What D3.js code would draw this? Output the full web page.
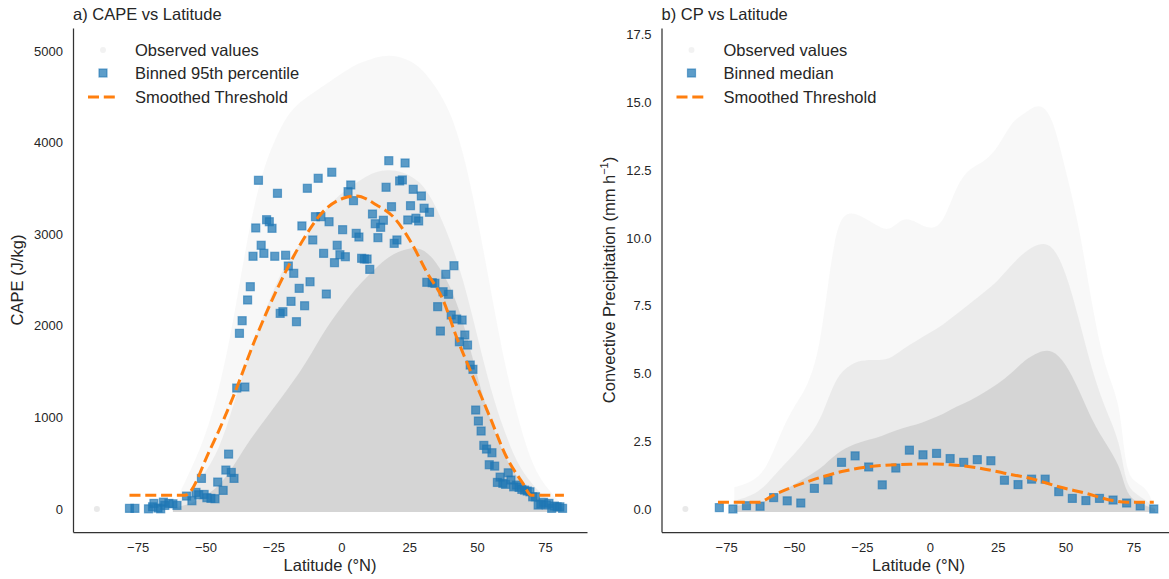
<!DOCTYPE html>
<html>
<head>
<meta charset="utf-8">
<script src="https://cdn.jsdelivr.net/npm/d3@7"></script>
<style>
  body { margin: 0; background: #fff; }
  text { font-family: "Liberation Sans", Arial, sans-serif; fill: #262626; }
</style>
</head>
<body>
<div id="chart"></div>
<script>
var
    width = 1169,
    height = 579;

// ---- panel a: CAPE ----
var capeBinLat = [-78, -76, -71, -69.5, -69, -67.5, -66.5, -65.5, -65, -63.5, -62, -60.5,
  -57, -55, -53.5, -52.5, -51.5, -50.5, -49.5, -48, -46.5, -45.5, -43.5, -42.5, -41.5, -40.5, -39.5,
  -38.5, -37.5, -36.5, -35.5, -34.5, -33.5, -32.5, -31.5, -30.5, -29.5, -28.5, -27.5, -26.5, -25.5,
  -24.5, -23.5, -22.5, -21.5, -20.5, -19.5, -18.5, -17.5, -16.5, -15.5, -14.5, -13.5, -12.5, -11.5,
  -10.5, -9.5, -8.5, -7.5, -6.5, -5.5, -4.5, -3.5, -2.5, -1.5, -0.5, 0.5, 1.5, 2.5, 3.5, 4.5, 5.5,
  6.5, 7.5, 8.5, 9.5, 10.5, 11.5, 12.5, 13.5, 14.5, 15.5, 16.5, 17.5, 18.5, 19.5, 20.5, 21.5, 22.5,
  23.5, 24.5, 25.5, 26.5, 27.5, 28.5, 29.5, 30.5, 31.5, 32.5, 33.5, 34.5, 35.5, 36.5, 37.5, 38.5,
  39.5, 40.5, 41.5, 42.5, 43.5, 44.5, 45.5, 46.5, 47.5, 48.5, 49.5, 50.5, 51.5, 52.5, 53.5, 54.5,
  55.5, 56.5, 57.5, 58.5, 59.5, 60.5, 61.5, 62.5, 63.5, 64.5, 65.5, 66.5, 67.5, 68.5, 69.5, 70.5,
  71.5, 72.5, 73.5, 74.5, 75.5, 76.5, 77.5, 78.5, 79.5, 80.5, 81.5];
var capeP95 = [8, 8, 3, 25, 62, 11, 3, 76, 40, 62, 58, 40,
  142, 91, 182, 156, 335, 160, 124, 117, 113, 295, 204, 426, 600, 400, 335,
  1321, 1918, 2056, 1332, 2282, 2427, 2759, 3068, 3588, 2879, 2791, 3158, 3136, 3064,
  2759, 3446, 2136, 2154, 2770, 2653, 2267, 2573, 2045, 2409, 3090, 2219, 3501, 2481,
  2937, 3191, 3610, 3191, 2791, 2347, 3136, 3676, 2689, 2879, 2776, 3049, 2754, 3464, 3537, 3366, 3009,
  2969, 2737, 2729, 2729, 2616, 3220, 3114, 2962, 3075, 3152, 3512, 3802, 3300, 2900, 2937, 3581, 3592,
  3777, 3155, 3311, 3490, 3174, 3144, 3417, 3283, 2475, 3239, 2470, 2464, 2209, 1943, 2372, 2562,
  2344, 2118, 2656, 2074, 1826, 2063, 1900, 1790, 1572, 1525, 1081, 961, 852, 695, 655, 484,
  615, 469, 291, 349, 281, 270, 396, 317, 243, 262, 237, 215, 207, 197, 189, 134,
  134, 44, 55, 73, 44, 62, 8, 33, 25, 25, 8];

var capeSmoothLat = [-78, -57.6, -48.4, -39.8, -31.8, -22.6, -14.1, -6.7, 0.7, 5.5, 13, 19.1, 25.2,
  31.4, 37.5, 42.4, 48.5, 54.7, 60.8, 66.9, 70, 82];
var capeSmooth = [150, 150, 644, 1226, 1845, 2464, 2937, 3246, 3392, 3417, 3319, 3191, 2937,
  2591, 2282, 1881, 1444, 1008, 571, 281, 150, 150];

// observed cloud, read as envelopes: sparse top, medium-density top, solid top
var capeCloudLat = [-62, -60, -55, -50, -45, -40, -35, -30, -25, -20, -15, -10, -5, 0, 5, 10, 15,
  20, 25, 30, 35, 40, 45, 50, 55, 60, 65, 70, 75, 80, 82];
var capeCloudSparse = [0, 150, 450, 800, 1300, 2000, 2900, 3600, 4000, 4300, 4450, 4550, 4650, 4750,
  4850, 4900, 4950, 4950, 4900, 4800, 4600, 4350, 3900, 3200, 2400, 1600, 1000, 500, 250, 100, 0];
var capeCloudMid = [0, 60, 200, 400, 650, 1100, 1600, 2000, 2400, 2700, 2900, 3100, 3300, 3450,
  3550, 3650, 3700, 3700, 3650, 3550, 3300, 2950, 2500, 1900, 1300, 850, 480, 280, 120, 50, 0];
var capeCloudDense = [0, 30, 60, 150, 250, 450, 700, 900, 1100, 1300, 1500, 1750, 2000, 2200,
  2400, 2550, 2700, 2800, 2850, 2850, 2700, 2450, 2050, 1450, 950, 580, 330, 180, 70, 20, 0];

// ---- panel b: convective precipitation ----
var cpBinLat = [-77.5, -72.5, -67.5, -62.5, -57.5, -52.5, -47.5, -42.5, -37.5, -32.5, -27.5,
  -22.5, -17.5, -12.5, -7.5, -2.5, 2.5, 7.5, 12.5, 17.5, 22.5, 27.5, 32.5, 37.5, 42.5, 47.5,
  52.5, 57.5, 62.5, 67.5, 72.5, 77.5, 82.5];
var cpMedian = [0.05, 0.0, 0.12, 0.1, 0.42, 0.3, 0.22, 0.76, 1.07, 1.72, 1.96,
  1.55, 0.89, 1.51, 2.17, 2.0, 2.05, 1.86, 1.72, 1.82, 1.78, 1.06, 0.9, 1.1, 1.1, 0.64,
  0.39, 0.31, 0.39, 0.33, 0.22, 0.11, 0.0];

var cpSmoothLat = [-78, -63, -57.4, -42.3, -32.4, -22.3, -7.5, 2, 7.5, 17.6, 27.5, 37.4, 47.5,
  57.4, 67.5, 72.5, 82.5];
var cpSmooth = [0.25, 0.25, 0.52, 1.1, 1.38, 1.56, 1.65, 1.66, 1.63, 1.52, 1.32, 1.12, 0.82,
  0.58, 0.31, 0.25, 0.25];

var cpCloudLat = [-72, -65, -60, -55, -50, -45, -40, -35, -30, -25, -20, -15, -10, -5, 0, 5, 10,
  15, 20, 25, 30, 35, 40, 45, 50, 55, 60, 65, 70, 72, 75, 80, 83];
var cpCloudSparse = [0.8, 1.0, 1.5, 2.8, 3.8, 4.5, 6.0, 10.5, 11.0, 10.8, 10.5, 10.2, 10.8, 10.6,
  10.3, 10.5, 12.0, 12.6, 12.8, 13.3, 14.3, 14.6, 15.0, 14.6, 12.5, 10.5, 7.3, 5.0, 4.0, 1.5, 1.0, 0.8, 0];
var cpCloudMid = [0.3, 0.5, 0.9, 1.5, 2.0, 2.6, 3.3, 4.8, 5.3, 5.5, 5.5, 5.5, 5.9, 6.2,
  6.5, 6.8, 7.2, 7.6, 8.0, 8.4, 9.0, 9.5, 9.8, 9.8, 8.8, 7.0, 5.0, 3.6, 2.5, 1.0, 0.6, 0.3, 0];
var cpCloudDense = [0.1, 0.2, 0.3, 0.6, 0.9, 1.2, 1.5, 2.0, 2.3, 2.5, 2.6, 2.8, 3.0, 3.1,
  3.3, 3.5, 3.8, 4.0, 4.3, 4.6, 5.0, 5.5, 5.8, 5.9, 5.4, 4.4, 3.2, 2.4, 1.6, 0.7, 0.3, 0.1, 0];

var latTicks = [-75, -50, -25, 0, 25, 50, 75];
var capeTicks = [0, 1000, 2000, 3000, 4000, 5000];
var cpTicks = [0, 2.5, 5, 7.5, 10, 12.5, 15, 17.5];

var blue = "#1f77b4",
    orange = "#ff7f0e",
    cloudGray = "#d3d3d3";

var svg = d3.select("#chart")
        .append("svg")
        .attr("width", width)
        .attr("height", height);

function drawPanel(p) {
  var x = d3.scaleLinear().domain([-98.8, 90.5]).range([p.left, p.left + 514]);
  var y = d3.scaleLinear().domain(p.yDomain).range([532, 28]);

  var g = svg.append("g");

  // observed cloud as layered density envelopes
  var layers = [
    {top: p.cloudSparse, op: 0.16},
    {top: p.cloudMid, op: 0.35},
    {top: p.cloudDense, op: 0.9}
  ];
  layers.forEach(function(l) {
    var area = d3.area()
        .x(function(d, i) { return x(p.cloudLat[i]); })
        .y0(y(0) + 3)
        .y1(function(d) { return y(d); })
        .curve(d3.curveBasis);
    g.append("path")
        .attr("d", area(l.top))
        .attr("fill", cloudGray)
        .attr("fill-opacity", l.op);
  });

  // isolated observed point at the far south
  g.append("circle")
      .attr("cx", x(-90)).attr("cy", y(0)).attr("r", 3)
      .attr("fill", cloudGray).attr("fill-opacity", 0.5);

  // binned points
  g.append("g")
    .selectAll("rect")
      .data(p.binLat)
    .enter().append("rect")
      .attr("x", function(d) { return x(d) - 4; })
      .attr("y", function(d, i) { return y(p.binVal[i]) - 4; })
      .attr("width", 8)
      .attr("height", 8)
      .attr("fill", blue)
      .attr("fill-opacity", 0.72)
      .attr("stroke", blue)
      .attr("stroke-opacity", 0.6)
      .attr("stroke-width", 1.2);

  // smoothed threshold
  var line = d3.line()
      .x(function(d, i) { return x(p.smoothLat[i]); })
      .y(function(d) { return y(d); })
      .curve(d3.curveMonotoneX);
  g.append("path")
      .attr("d", line(p.smooth))
      .attr("fill", "none")
      .attr("stroke", orange)
      .attr("stroke-width", 3)
      .attr("stroke-dasharray", "11,4.8");

  // axes
  var xAxis = g.append("g")
      .attr("transform", "translate(0,532)")
      .call(d3.axisBottom(x).tickValues(latTicks).tickSize(0).tickPadding(11));
  var yAxis = g.append("g")
      .attr("transform", "translate(" + p.left + ",0)")
      .call(d3.axisLeft(y).tickValues(p.yTicks).tickFormat(p.yFormat).tickSize(0).tickPadding(10));
  [xAxis, yAxis].forEach(function(a) {
    a.select(".domain").attr("stroke", "#333").attr("stroke-width", 1.25);
    a.selectAll("text").attr("font-size", 13).attr("fill", "#262626")
        .attr("font-family", "Liberation Sans, Arial, sans-serif");
  });

  g.append("text")
      .attr("x", p.left + 257)
      .attr("y", 571)
      .attr("text-anchor", "middle")
      .attr("font-size", 16.5)
      .text("Latitude (°N)");

  var yl = g.append("text")
      .attr("transform", "translate(" + p.yLabelX + ",280) rotate(-90)")
      .attr("text-anchor", "middle")
      .attr("font-size", 16.5);
  yl.text(p.yLabel);
  if (p.yLabelSup) {
    yl.append("tspan").attr("font-size", 11).attr("dy", -7).text(p.yLabelSup);
    yl.append("tspan").attr("dy", 7).text(")");
  }

  g.append("text")
      .attr("x", p.left)
      .attr("y", 20)
      .attr("font-size", 16.5)
      .text(p.title);

  // legend
  var lx = p.left + 30, rows = [50, 73, 97];
  g.append("circle")
      .attr("cx", lx).attr("cy", rows[0]).attr("r", 3)
      .attr("fill", cloudGray).attr("fill-opacity", 0.3);
  g.append("rect")
      .attr("x", lx - 4).attr("y", rows[1] - 4).attr("width", 8).attr("height", 8)
      .attr("fill", blue).attr("fill-opacity", 0.72)
      .attr("stroke", blue).attr("stroke-opacity", 0.6).attr("stroke-width", 1.2);
  g.append("line")
      .attr("x1", lx - 15).attr("x2", lx + 15)
      .attr("y1", rows[2]).attr("y2", rows[2])
      .attr("stroke", orange).attr("stroke-width", 3)
      .attr("stroke-dasharray", "11,4.8");
  var labels = ["Observed values", p.binLabel, "Smoothed Threshold"];
  labels.forEach(function(t, i) {
    g.append("text")
        .attr("x", p.left + 62)
        .attr("y", rows[i] + 6)
        .attr("font-size", 16.5)
        .text(t);
  });
}

drawPanel({
  left: 73,
  yDomain: [-250, 5250],
  yTicks: capeTicks,
  yFormat: d3.format("d"),
  yLabel: "CAPE (J/kg)",
  yLabelX: 23,
  title: "a) CAPE vs Latitude",
  binLabel: "Binned 95th percentile",
  binLat: capeBinLat, binVal: capeP95,
  smoothLat: capeSmoothLat, smooth: capeSmooth,
  cloudLat: capeCloudLat, cloudSparse: capeCloudSparse,
  cloudMid: capeCloudMid, cloudDense: capeCloudDense
});

drawPanel({
  left: 661.5,
  yDomain: [-0.85, 17.75],
  yTicks: cpTicks,
  yFormat: d3.format(".1f"),
  yLabel: "Convective Precipitation (mm h",
  yLabelSup: "−1",
  yLabelX: 615,
  title: "b) CP vs Latitude",
  binLabel: "Binned median",
  binLat: cpBinLat, binVal: cpMedian,
  smoothLat: cpSmoothLat, smooth: cpSmooth,
  cloudLat: cpCloudLat, cloudSparse: cpCloudSparse,
  cloudMid: cpCloudMid, cloudDense: cpCloudDense
});
</script>
</body>
</html>
